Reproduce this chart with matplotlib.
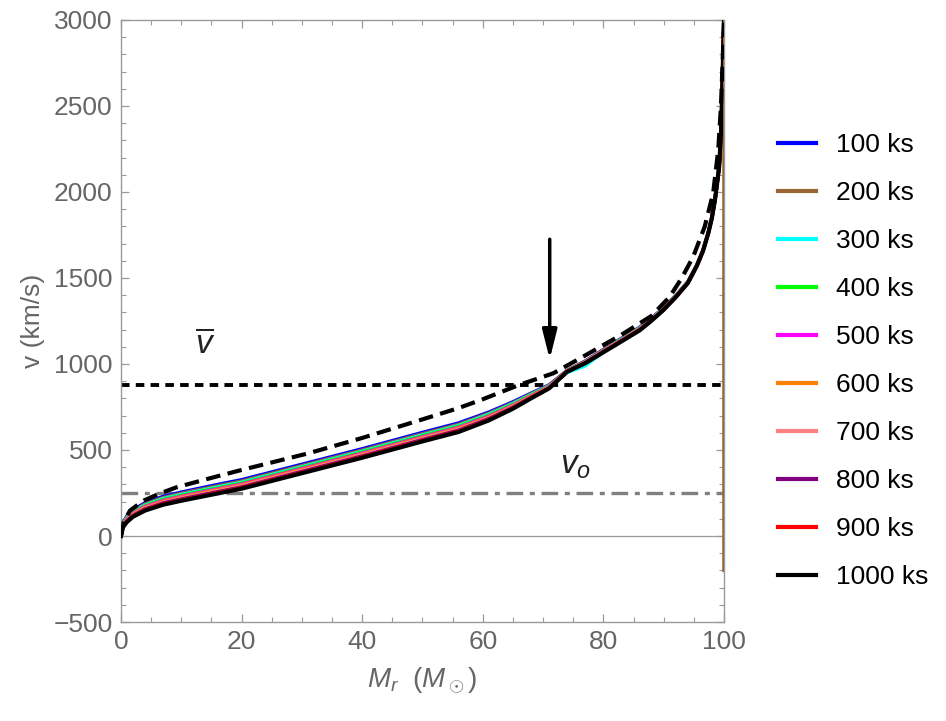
import matplotlib
matplotlib.use('Agg')
import matplotlib.pyplot as plt
from matplotlib.ticker import MultipleLocator

plt.rcParams['font.family'] = ['Liberation Sans', 'DejaVu Sans']
plt.rcParams['mathtext.fontset'] = 'custom'
plt.rcParams['mathtext.rm'] = 'Liberation Sans'
plt.rcParams['mathtext.it'] = 'Liberation Sans:italic'

# mass coordinate grid (solar masses) shared by all epochs
mass = [0, 0.3, 1, 2, 4, 7, 10, 15, 20, 30, 40, 50, 56, 61, 65, 68, 71, 74, 77, 82,
        86, 88, 90, 92, 94, 95.5, 96.5, 97.4, 98, 98.5, 98.9, 99.2, 99.5, 99.67, 99.8, 99.92, 100]

# velocity profiles (km/s)
v_100 = [0, 75, 117, 152, 193, 230, 255, 292, 327, 417, 507, 602, 657, 720, 780, 830, 878, 963, 1017, 1128,
         1213, 1267, 1327, 1398, 1478, 1576, 1660, 1764, 1853, 1953, 2060, 2147, 2341, 2535, 2720, 2880, 3000]
v_200 = [0, 71, 112, 146, 186, 223, 248, 284, 319, 409, 499, 594, 649, 713, 774, 826, 875, 962, 1015, 1125,
         1210, 1265, 1325, 1397, 1477, 1575, 1659, 1763, 1853, 1953, 2060, 2147, 2341, 2535, 2720, 2880, 3000]
v_300 = [0, 68, 107, 141, 180, 217, 241, 277, 312, 402, 492, 587, 642, 707, 769, 822, 872, 950, 990, 1123,
         1208, 1263, 1324, 1395, 1476, 1574, 1659, 1763, 1852, 1953, 2060, 2147, 2341, 2535, 2720, 2880, 3000]
v_400 = [0, 66, 104, 137, 176, 212, 236, 272, 307, 397, 487, 582, 637, 702, 765, 819, 870, 960, 1012, 1121,
         1206, 1261, 1322, 1394, 1475, 1574, 1658, 1762, 1852, 1953, 2060, 2147, 2341, 2535, 2720, 2880, 3000]
v_500 = [0, 63, 100, 132, 171, 206, 230, 266, 301, 391, 481, 576, 631, 696, 760, 815, 868, 959, 1011, 1119,
         1204, 1260, 1321, 1393, 1474, 1573, 1658, 1762, 1852, 1953, 2060, 2147, 2341, 2535, 2720, 2880, 3000]
v_600 = [0, 60, 96, 128, 166, 201, 225, 261, 296, 386, 476, 571, 626, 691, 756, 812, 866, 958, 1010, 1117,
         1202, 1258, 1320, 1392, 1473, 1572, 1657, 1762, 1851, 1953, 2060, 2147, 2341, 2535, 2720, 2880, 3000]
v_700 = [0, 58, 93, 124, 162, 196, 220, 256, 291, 381, 471, 566, 621, 686, 752, 809, 864, 957, 1009, 1115,
         1200, 1257, 1319, 1391, 1472, 1572, 1657, 1761, 1851, 1953, 2060, 2147, 2341, 2535, 2720, 2880, 3000]
v_800 = [0, 55, 89, 120, 157, 192, 215, 250, 285, 375, 465, 560, 615, 682, 748, 806, 862, 957, 1007, 1114,
         1199, 1255, 1317, 1390, 1472, 1571, 1656, 1761, 1851, 1953, 2060, 2147, 2341, 2535, 2720, 2880, 3000]
v_900 = [0, 53, 86, 116, 153, 187, 210, 245, 280, 370, 460, 555, 610, 677, 744, 803, 860, 956, 1006, 1112,
         1197, 1254, 1316, 1389, 1471, 1571, 1656, 1760, 1850, 1953, 2060, 2147, 2341, 2535, 2720, 2880, 3000]
v_1000 = [0, 50, 82, 112, 148, 182, 205, 240, 275, 365, 455, 550, 605, 672, 740, 800, 858, 955, 1005, 1110,
          1195, 1252, 1315, 1388, 1470, 1570, 1655, 1760, 1850, 1953, 2060, 2147, 2341, 2535, 2720, 2880, 3000]

# the 200 ks profile drops to this value at the outer edge
edge_v_200 = -200

# reference (dashed) profile
mass_ref = [0, 0.5, 1.5, 3.7, 6.5, 9.2, 15, 20, 31, 40, 50, 56, 60, 66, 71.7, 77, 83, 88, 91, 93,
            94.9, 96.8, 98.2, 99.05, 99.5, 99.8, 100]
v_ref = [0, 85, 148, 205, 248, 283, 338, 384, 480, 570, 678, 744, 795, 878, 946, 1050, 1170, 1280, 1391, 1500,
         1624, 1798, 1992, 2244, 2500, 2780, 3000]

v_mean = 875
v_o = 250

labels = ['100 ks', '200 ks', '300 ks', '400 ks', '500 ks', '600 ks', '700 ks', '800 ks', '900 ks', '1000 ks']
colors = ['#0000FF', '#996633', '#00FFFF', '#00FF00', '#FF00FF', '#FF8000', '#FF8080', '#800080', '#FF0000', '#000000']
profiles = [v_100, v_200, v_300, v_400, v_500, v_600, v_700, v_800, v_900, v_1000]

fig = plt.figure(figsize=(9.46, 7.21), dpi=100)
ax = fig.add_axes([0.1279, 0.1373, 0.6374, 0.835])

gray = '#666666'
frame = '#9a9a9a'

ax.axhline(0, color='#999999', lw=0.9, zorder=1)
ax.axhline(v_o, color='#808080', lw=2.4, dashes=(5, 2, 1.5, 2), zorder=2)
ax.axhline(v_mean, color='black', lw=2.8, dashes=(2.2, 1.6), zorder=2)

lines = []
for lab, col, vv in zip(labels, colors, profiles):
    xs = list(mass)
    ys = list(vv)
    if lab == '200 ks':
        xs = xs + [100]
        ys = ys + [edge_v_200]
    lw = 3.0 if lab == '1000 ks' else 2.5
    ln, = ax.plot(xs, ys, color=col, lw=lw, label=lab, zorder=3, solid_joinstyle='round')
    lines.append(ln)

# 200 ks outer edge drawn again on top so it shows as in the original
ax.plot([100, 100], [3000, edge_v_200], color='#996633', lw=2.2, zorder=4)

ax.plot(mass_ref, v_ref, color='black', lw=3, dashes=(3.5, 1.8), zorder=5)

ax.annotate('', xy=(71.1, 1027), xytext=(71.1, 1725),
            arrowprops=dict(arrowstyle='-|>,head_length=0.8,head_width=0.2', lw=2.5,
                            color='black', shrinkA=0, shrinkB=0, mutation_scale=22))

ax.text(13.9, 1110, r'$\overline{v}$', fontsize=24, color='#222222', ha='center', va='center')
ax.text(75.3, 410, r'$v_o$', fontsize=24, color='#222222', ha='center', va='center')

ax.set_xlim(0, 100)
ax.set_ylim(-500, 3000)
ax.xaxis.set_major_locator(MultipleLocator(20))
ax.xaxis.set_minor_locator(MultipleLocator(5))
ax.yaxis.set_major_locator(MultipleLocator(500))
ax.yaxis.set_minor_locator(MultipleLocator(100))
ax.yaxis.set_major_formatter(plt.FuncFormatter(lambda v, p: f'{int(v)}'.replace('-', '\u2212')))

for s in ax.spines.values():
    s.set_color(frame)
    s.set_linewidth(1.0)
ax.tick_params(which='both', direction='in', top=True, right=True, color=frame,
               labelcolor=gray, labelsize=19)
ax.tick_params(which='major', length=6, width=0.9, pad=6)
ax.tick_params(which='minor', length=3.5, width=0.8)

ax.set_xlabel(r'$M_r\ \ (M_\odot)$', fontsize=20, color=gray, labelpad=8)
ax.set_ylabel('v (km/s)', fontsize=19, color=gray, labelpad=6)

fig.legend(handles=lines, labels=labels, loc='center left', bbox_to_anchor=(0.822, 0.4993),
           frameon=False, fontsize=19, handlelength=1.45, handletextpad=0.75,
           labelspacing=0.91, borderpad=0, borderaxespad=0)
for ln in fig.legends[0].get_lines():
    ln.set_linewidth(3)

fig.savefig('out.png', dpi=100)
